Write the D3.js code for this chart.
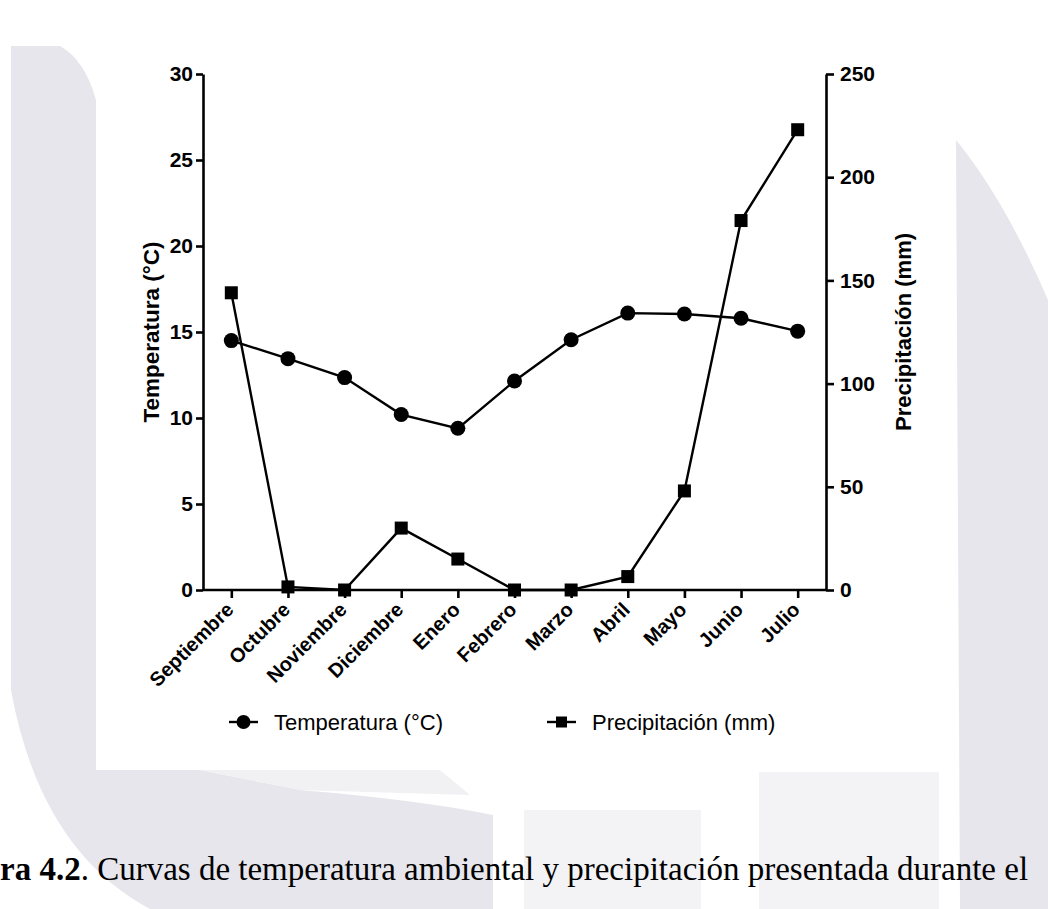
<!DOCTYPE html>
<html>
<head>
<meta charset="utf-8">
<script src="https://cdnjs.cloudflare.com/ajax/libs/d3/7.8.5/d3.min.js"></script>
<style>
  body { margin: 0; background: #fff; }
  svg { display: block; }
</style>
</head>
<body>
<svg id="chart" width="1048" height="909"></svg>
<script>
// data
var months = ["Septiembre", "Octubre", "Noviembre", "Diciembre", "Enero", "Febrero",
              "Marzo", "Abril", "Mayo", "Junio", "Julio"];
var temperature = [14.5, 13.45, 12.35, 10.2, 9.4, 12.15, 14.55, 16.1, 16.05, 15.8, 15.05];
var precipitation = [144, 1.5, 0, 30, 15, 0, 0, 6.5, 48, 179, 223];
var tempTicks = [0, 5, 10, 15, 20, 25, 30];
var precTicks = [0, 50, 100, 150, 200, 250];

var svg = d3.select("#chart");

// watermark shapes behind the figure
var bg = svg.append("g").attr("class", "watermark");
bg.append("path")
  .attr("fill", "#e6e6ec")
  .attr("d", "M11,46 L60,46 Q85,60 96,100 L96,770 L200,770 L300,790 Q420,800 493,815 L493,909 L150,909 Q40,850 11,690 Z");
bg.append("path")
  .attr("fill", "#e6e6ec")
  .attr("d", "M956,140 Q1005,200 1048,300 L1048,909 L960,909 Z");
bg.append("path")
  .attr("fill", "#f3f3f6")
  .attr("d", "M524,810 L701,810 L701,909 L524,909 Z");
bg.append("path")
  .attr("fill", "#f3f3f6")
  .attr("d", "M759,772 L939,772 L939,909 L759,909 Z");
bg.append("path")
  .attr("fill", "#f1f1f4")
  .attr("d", "M200,770 L440,770 L470,795 L300,790 Z");

var plotLeft = 203, plotRight = 826, plotTop = 74, plotBottom = 590;

var x = d3.scalePoint().domain(months).range([plotLeft, plotRight]).padding(0.5);
var yT = d3.scaleLinear().domain([0, 30]).range([plotBottom, plotTop]);
var yP = d3.scaleLinear().domain([0, 250]).range([plotBottom, plotTop]);

var sans = "'Liberation Sans', Arial, sans-serif";

function styleAxis(g) {
  g.select(".domain").attr("stroke", "#000").attr("stroke-width", 2.6);
  g.selectAll(".tick line").attr("stroke", "#000").attr("stroke-width", 2.6);
  g.selectAll(".tick text")
    .attr("fill", "#000")
    .style("font-family", sans)
    .style("font-weight", "bold")
    .style("font-size", "21px");
}

var gx = svg.append("g")
  .attr("transform", "translate(0," + plotBottom + ")")
  .call(d3.axisBottom(x).tickSizeOuter(0).tickSizeInner(8).tickPadding(4));
styleAxis(gx);
gx.select(".domain").attr("d", "M" + plotLeft + ",0H" + plotRight);
gx.selectAll(".tick text")
  .style("font-size", "20px")
  .attr("text-anchor", "end")
  .attr("x", 0).attr("y", 0)
  .attr("dy", "0.35em")
  .attr("transform", "translate(-2,16) rotate(-45)");

var gl = svg.append("g")
  .attr("transform", "translate(" + plotLeft + ",0)")
  .call(d3.axisLeft(yT).tickValues(tempTicks).tickSizeOuter(0).tickSizeInner(7).tickPadding(3));
styleAxis(gl);

var gr = svg.append("g")
  .attr("transform", "translate(" + plotRight + ",0)")
  .call(d3.axisRight(yP).tickValues(precTicks).tickSizeOuter(0).tickSizeInner(8).tickPadding(6));
styleAxis(gr);

// axis titles
svg.append("text")
  .attr("transform", "translate(159," + ((plotTop + plotBottom) / 2) + ") rotate(-90)")
  .attr("text-anchor", "middle")
  .style("font-family", sans)
  .style("font-weight", "bold")
  .style("font-size", "22.5px")
  .text("Temperatura (°C)");

svg.append("text")
  .attr("transform", "translate(911," + ((plotTop + plotBottom) / 2) + ") rotate(-90)")
  .attr("text-anchor", "middle")
  .style("font-family", sans)
  .style("font-weight", "bold")
  .style("font-size", "22px")
  .text("Precipitación (mm)");

// lines
var lineT = d3.line().x(function (d, i) { return x(months[i]); }).y(function (d) { return yT(d); });
var lineP = d3.line().x(function (d, i) { return x(months[i]); }).y(function (d) { return yP(d); });

svg.append("path").datum(precipitation)
  .attr("fill", "none").attr("stroke", "#000").attr("stroke-width", 2.4)
  .attr("d", lineP);
svg.append("path").datum(temperature)
  .attr("fill", "none").attr("stroke", "#000").attr("stroke-width", 2.4)
  .attr("d", lineT);

svg.selectAll("rect.prec").data(precipitation).enter().append("rect")
  .attr("class", "prec")
  .attr("x", function (d, i) { return x(months[i]) - 6.5; })
  .attr("y", function (d) { return yP(d) - 6.5; })
  .attr("width", 13).attr("height", 13)
  .attr("fill", "#000");

svg.selectAll("circle.temp").data(temperature).enter().append("circle")
  .attr("class", "temp")
  .attr("cx", function (d, i) { return x(months[i]); })
  .attr("cy", function (d) { return yT(d); })
  .attr("r", 7.5)
  .attr("fill", "#000");

// legend
var legend = svg.append("g").attr("transform", "translate(0,722)");
var items = [
  { label: "Temperatura (°C)", x: 229, shape: "circle" },
  { label: "Precipitación (mm)", x: 547, shape: "square" }
];
items.forEach(function (it) {
  legend.append("line")
    .attr("x1", it.x).attr("x2", it.x + 29).attr("y1", 0).attr("y2", 0)
    .attr("stroke", "#000").attr("stroke-width", 2.4);
  if (it.shape === "circle") {
    legend.append("circle").attr("cx", it.x + 14.5).attr("cy", 0).attr("r", 7).attr("fill", "#000");
  } else {
    legend.append("rect").attr("x", it.x + 9).attr("y", -5.5).attr("width", 11).attr("height", 11).attr("fill", "#000");
  }
  legend.append("text")
    .attr("x", it.x + 45).attr("y", 0).attr("dy", "0.35em")
    .style("font-family", sans)
    .style("font-size", "22px")
    .attr("fill", "#000")
    .text(it.label);
});

// caption (cut off at the left edge like the source page)
var cap = svg.append("text")
  .attr("x", 0).attr("y", 880)
  .style("font-family", "'Liberation Serif', 'Times New Roman', serif")
  .style("font-size", "33px")
  .attr("fill", "#000");
cap.append("tspan").style("font-weight", "bold").text("ra 4.2");
cap.append("tspan").text(". Curvas de temperatura ambiental y precipitación presentada durante el");
</script>
</body>
</html>
